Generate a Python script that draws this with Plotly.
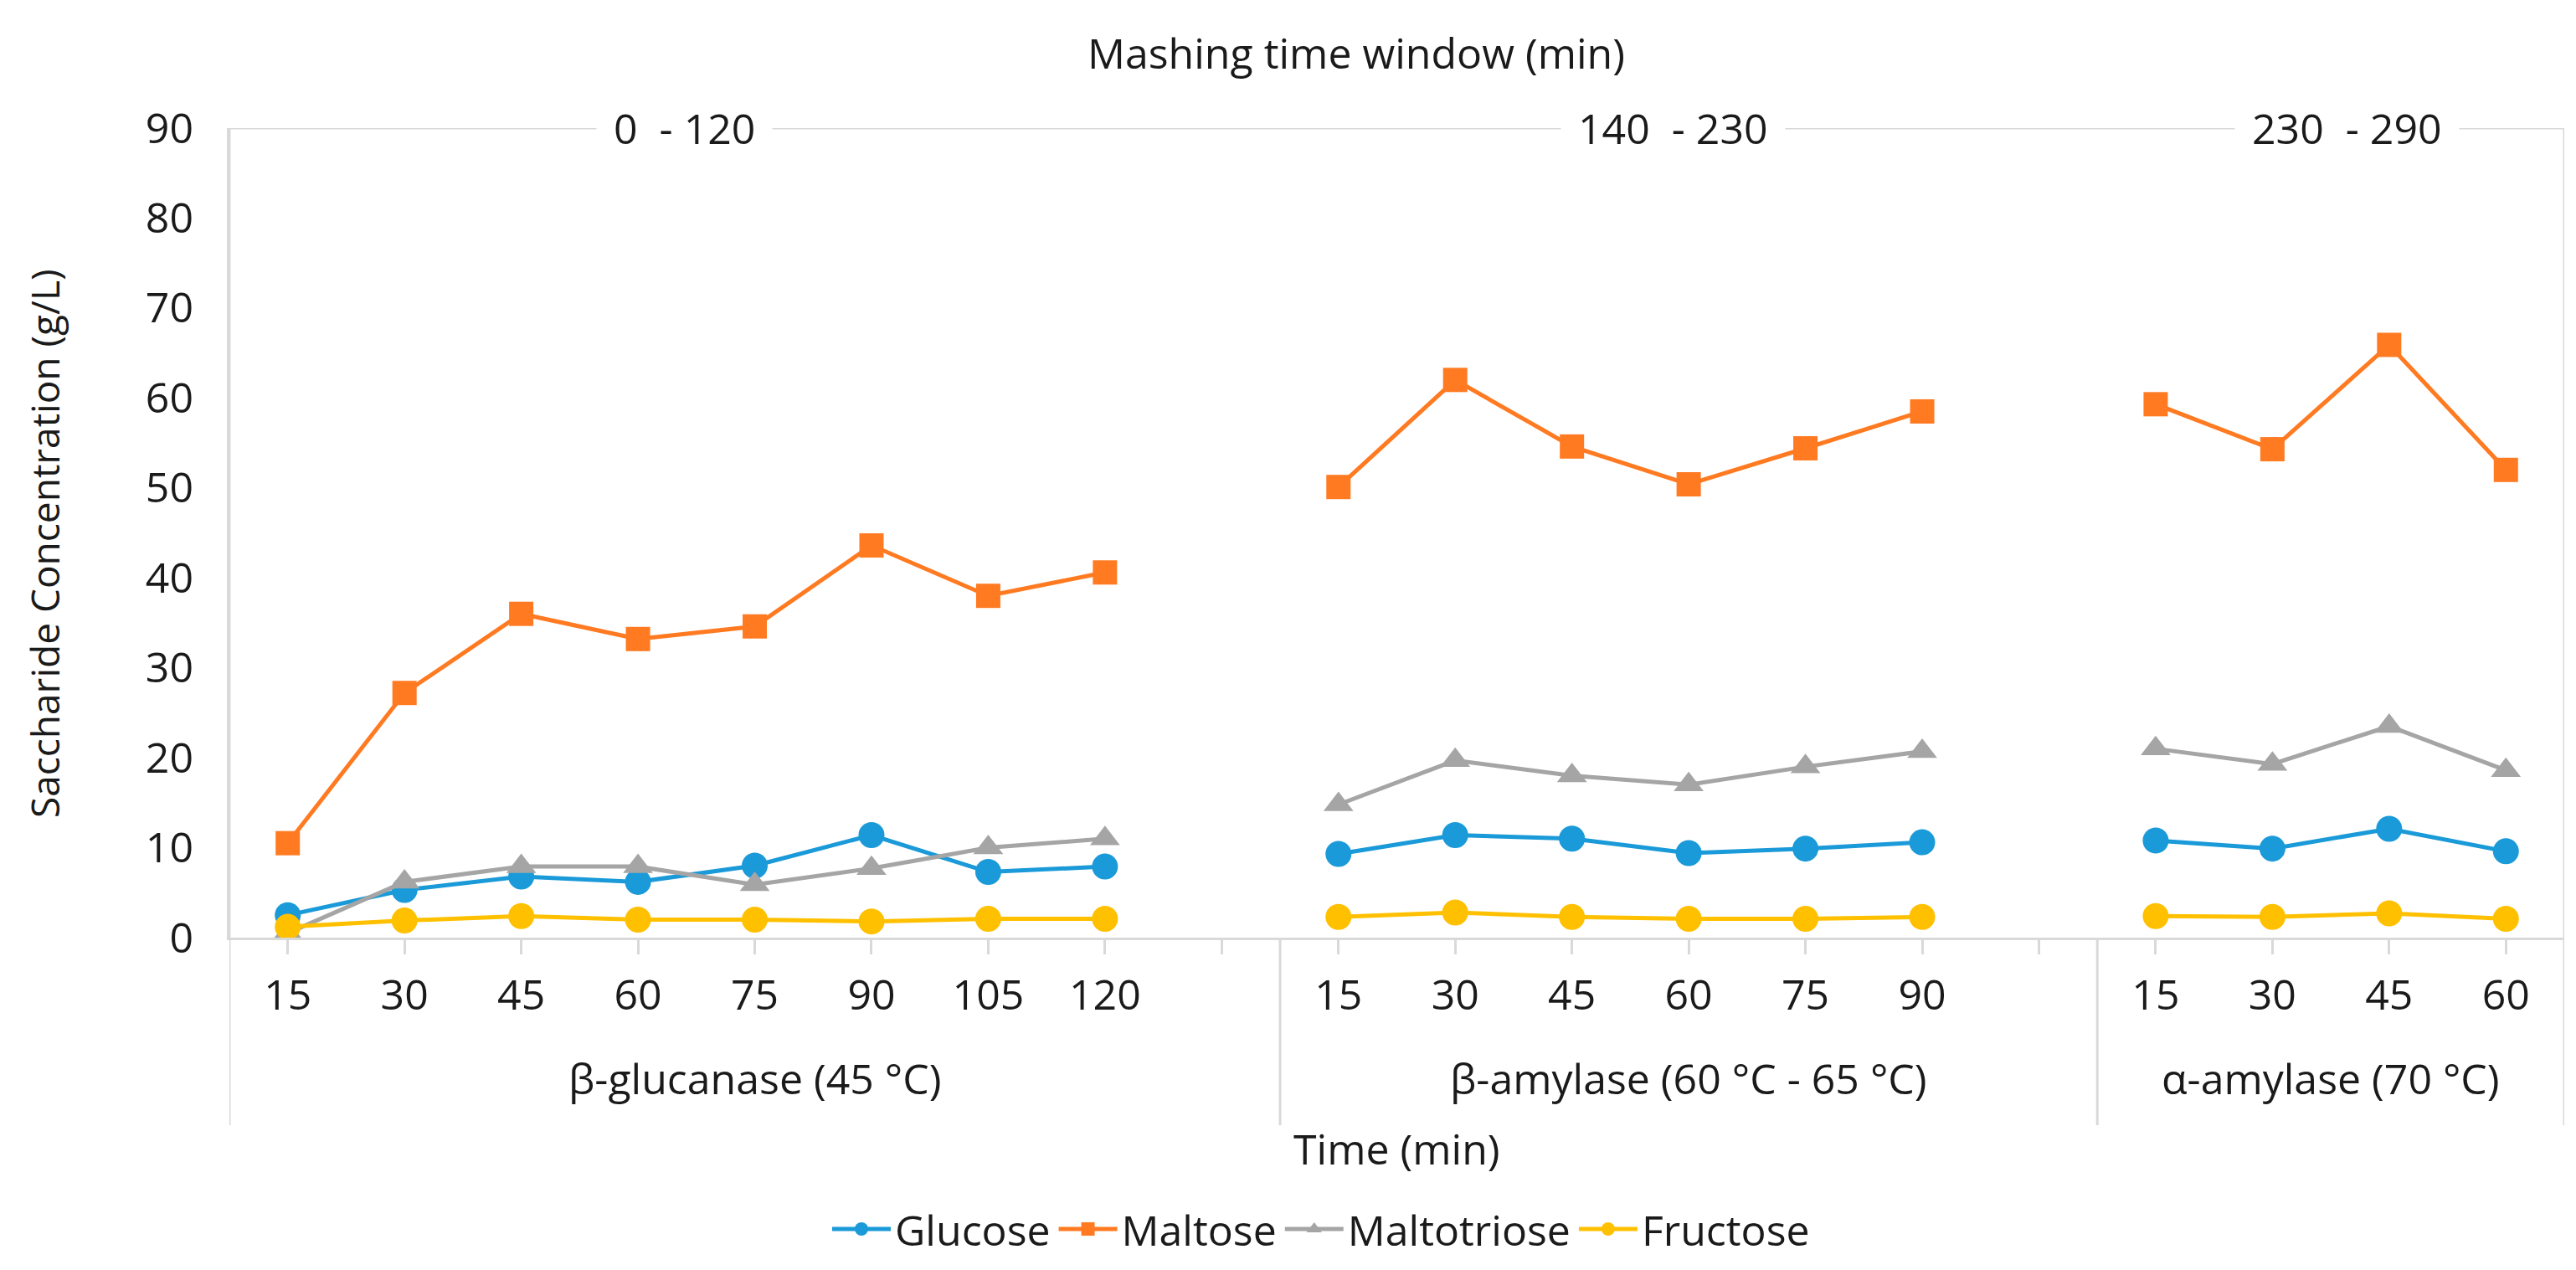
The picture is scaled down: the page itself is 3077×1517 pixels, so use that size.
import plotly.graph_objects as go

# ---- data ----
group_names = ["β-glucanase (45 °C)", "β-amylase (60 °C - 65 °C)", "α-amylase (70 °C)"]
window_names = ["0\u00a0 - 120", "140\u00a0 - 230", "230\u00a0 - 290"]
times_g1 = [15, 30, 45, 60, 75, 90, 105, 120]
times_g2 = [15, 30, 45, 60, 75, 90]
times_g3 = [15, 30, 45, 60]

glucose_g1 = [2.5, 5.3, 6.8, 6.2, 8.0, 11.4, 7.3, 7.9]
glucose_g2 = [9.3, 11.4, 11.0, 9.4, 9.9, 10.6]
glucose_g3 = [10.8, 9.9, 12.1, 9.6]

maltose_g1 = [10.5, 27.2, 36.0, 33.2, 34.6, 43.6, 38.0, 40.6]
maltose_g2 = [50.1, 62.0, 54.6, 50.4, 54.4, 58.5]
maltose_g3 = [59.3, 54.3, 65.9, 52.0]

maltotriose_g1 = [0.5, 6.2, 7.9, 7.9, 5.9, 7.7, 10.0, 11.0]
maltotriose_g2 = [14.8, 19.7, 18.0, 17.0, 19.0, 20.7]
maltotriose_g3 = [21.0, 19.3, 23.5, 18.6]

fructose_g1 = [1.2, 1.9, 2.4, 2.0, 2.0, 1.8, 2.1, 2.1]
fructose_g2 = [2.3, 2.8, 2.3, 2.1, 2.1, 2.3]
fructose_g3 = [2.4, 2.3, 2.7, 2.1]

# ---- category layout (one blank category between groups, as in the source) ----
groups = [times_g1, times_g2, times_g3]
ticktext, tickvals = [], []
pos = 0
group_bounds = []
for gi, g in enumerate(groups):
    start = pos
    for t in g:
        tickvals.append(pos)
        ticktext.append(str(t))
        pos += 1
    if gi < len(groups) - 1:
        tickvals.append(pos)      # blank category
        ticktext.append("")
        pos += 1
    group_bounds.append((start - 0.5, pos - 0.5))
n_cat = pos


def build(g1, g2, g3):
    return g1 + [None] + g2 + [None] + g3


xs = list(range(n_cat))
FONT = "Open Sans"
TXT = "#1a1a1a"
GRID = "#d9d9d9"
FS = 50
FS_V = 46

series = [
    ("Glucose", build(glucose_g1, glucose_g2, glucose_g3), "#1a9ad8", "circle", 31),
    ("Maltose", build(maltose_g1, maltose_g2, maltose_g3), "#ff7a21", "square", 29),
    ("Maltotriose", build(maltotriose_g1, maltotriose_g2, maltotriose_g3), "#a5a5a5", "triangle-up", 31),
    ("Fructose", build(fructose_g1, fructose_g2, fructose_g3), "#ffc000", "circle", 31),
]

fig = go.Figure()
for name, ys, col, sym, sz in series:
    fig.add_trace(go.Scatter(
        x=xs, y=ys, name=name, mode="lines+markers",
        line=dict(color=col, width=5),
        marker=dict(color=col, symbol=sym, size=sz, line=dict(width=0)),
        connectgaps=False,
    ))

W, H = 3077, 1517
L, R, T, B = 266, 22, 145, 405
plot_w = W - L - R
plot_h = H - T - B


def px2paper_y(py):
    return (H - B - py) / plot_h


def px2paper_x(px):
    return (px - L) / plot_w


bottom_ext = px2paper_y(1336)

shapes = []
# top border line at y = 90
shapes.append(dict(type="line", xref="x", yref="y", x0=-0.5, x1=n_cat - 0.5, y0=90, y1=90,
                   line=dict(color=GRID, width=3), layer="below"))
# left and right border lines extending below the axis
for xv in (-0.5, n_cat - 0.5):
    shapes.append(dict(type="line", xref="x", yref="paper", x0=xv, x1=xv, y0=bottom_ext, y1=1,
                       line=dict(color=GRID, width=3), layer="below"))
# group separators below the axis
for (a, b) in group_bounds[:-1]:
    shapes.append(dict(type="line", xref="x", yref="paper", x0=b, x1=b, y0=bottom_ext, y1=0,
                       line=dict(color=GRID, width=3), layer="below"))

annotations = []
# group labels under ticks
for (a, b), gname in zip(group_bounds, group_names):
    annotations.append(dict(x=(a + b) / 2, y=px2paper_y(1280), xref="x", yref="paper",
                            text=gname, showarrow=False, font=dict(size=FS, color=TXT, family=FONT),
                            xanchor="center", yanchor="middle"))
# top window labels (break the top line)
top_x_px = [809, 1990, 2795]
for xp, wname in zip(top_x_px, window_names):
    annotations.append(dict(x=px2paper_x(xp), y=90, xref="paper", yref="y", text=wname,
                            showarrow=False, font=dict(size=FS, color=TXT, family=FONT),
                            xanchor="center", yanchor="middle", bgcolor="white", borderpad=20))
# axis titles
annotations.append(dict(x=px2paper_x(1612), y=px2paper_y(55), xref="paper", yref="paper",
                        text="Mashing time window (min)", showarrow=False,
                        font=dict(size=FS, color=TXT, family=FONT), xanchor="center", yanchor="middle"))
annotations.append(dict(x=0.5, y=px2paper_y(1364), xref="paper", yref="paper",
                        text="Time (min)", showarrow=False,
                        font=dict(size=FS, color=TXT, family=FONT), xanchor="center", yanchor="middle"))
annotations.append(dict(x=px2paper_x(45), y=px2paper_y(642), xref="paper", yref="paper",
                        text="Saccharide Concentration (g/L)", showarrow=False, textangle=-90,
                        font=dict(size=FS_V, color=TXT, family=FONT), xanchor="center", yanchor="middle"))

fig.update_layout(
    width=W, height=H,
    margin=dict(l=L, r=R, t=T, b=B),
    paper_bgcolor="white", plot_bgcolor="white",
    font=dict(family=FONT, size=FS, color=TXT),
    shapes=shapes, annotations=annotations,
    showlegend=True,
    legend=dict(orientation="h", x=px2paper_x(1570), xanchor="center",
                y=px2paper_y(1460), yanchor="middle",
                font=dict(size=FS, color=TXT, family=FONT),
                itemwidth=70, tracegroupgap=0),
    xaxis=dict(range=[-0.5, n_cat - 0.5], tickmode="array", tickvals=tickvals, ticktext=ticktext,
               showgrid=False, zeroline=False, showline=True, linecolor=GRID, linewidth=3,
               ticks="outside", ticklen=17, tickwidth=3, tickcolor=GRID,
               tickfont=dict(size=FS, color=TXT, family=FONT), ticklabelstandoff=6),
    yaxis=dict(range=[0, 90], tickmode="linear", tick0=0, dtick=10,
               showgrid=False, zeroline=False, showline=True, linecolor=GRID, linewidth=3,
               ticks="", tickfont=dict(size=FS, color=TXT, family=FONT), ticklabelstandoff=30),
)

fig.write_html("out.html")
